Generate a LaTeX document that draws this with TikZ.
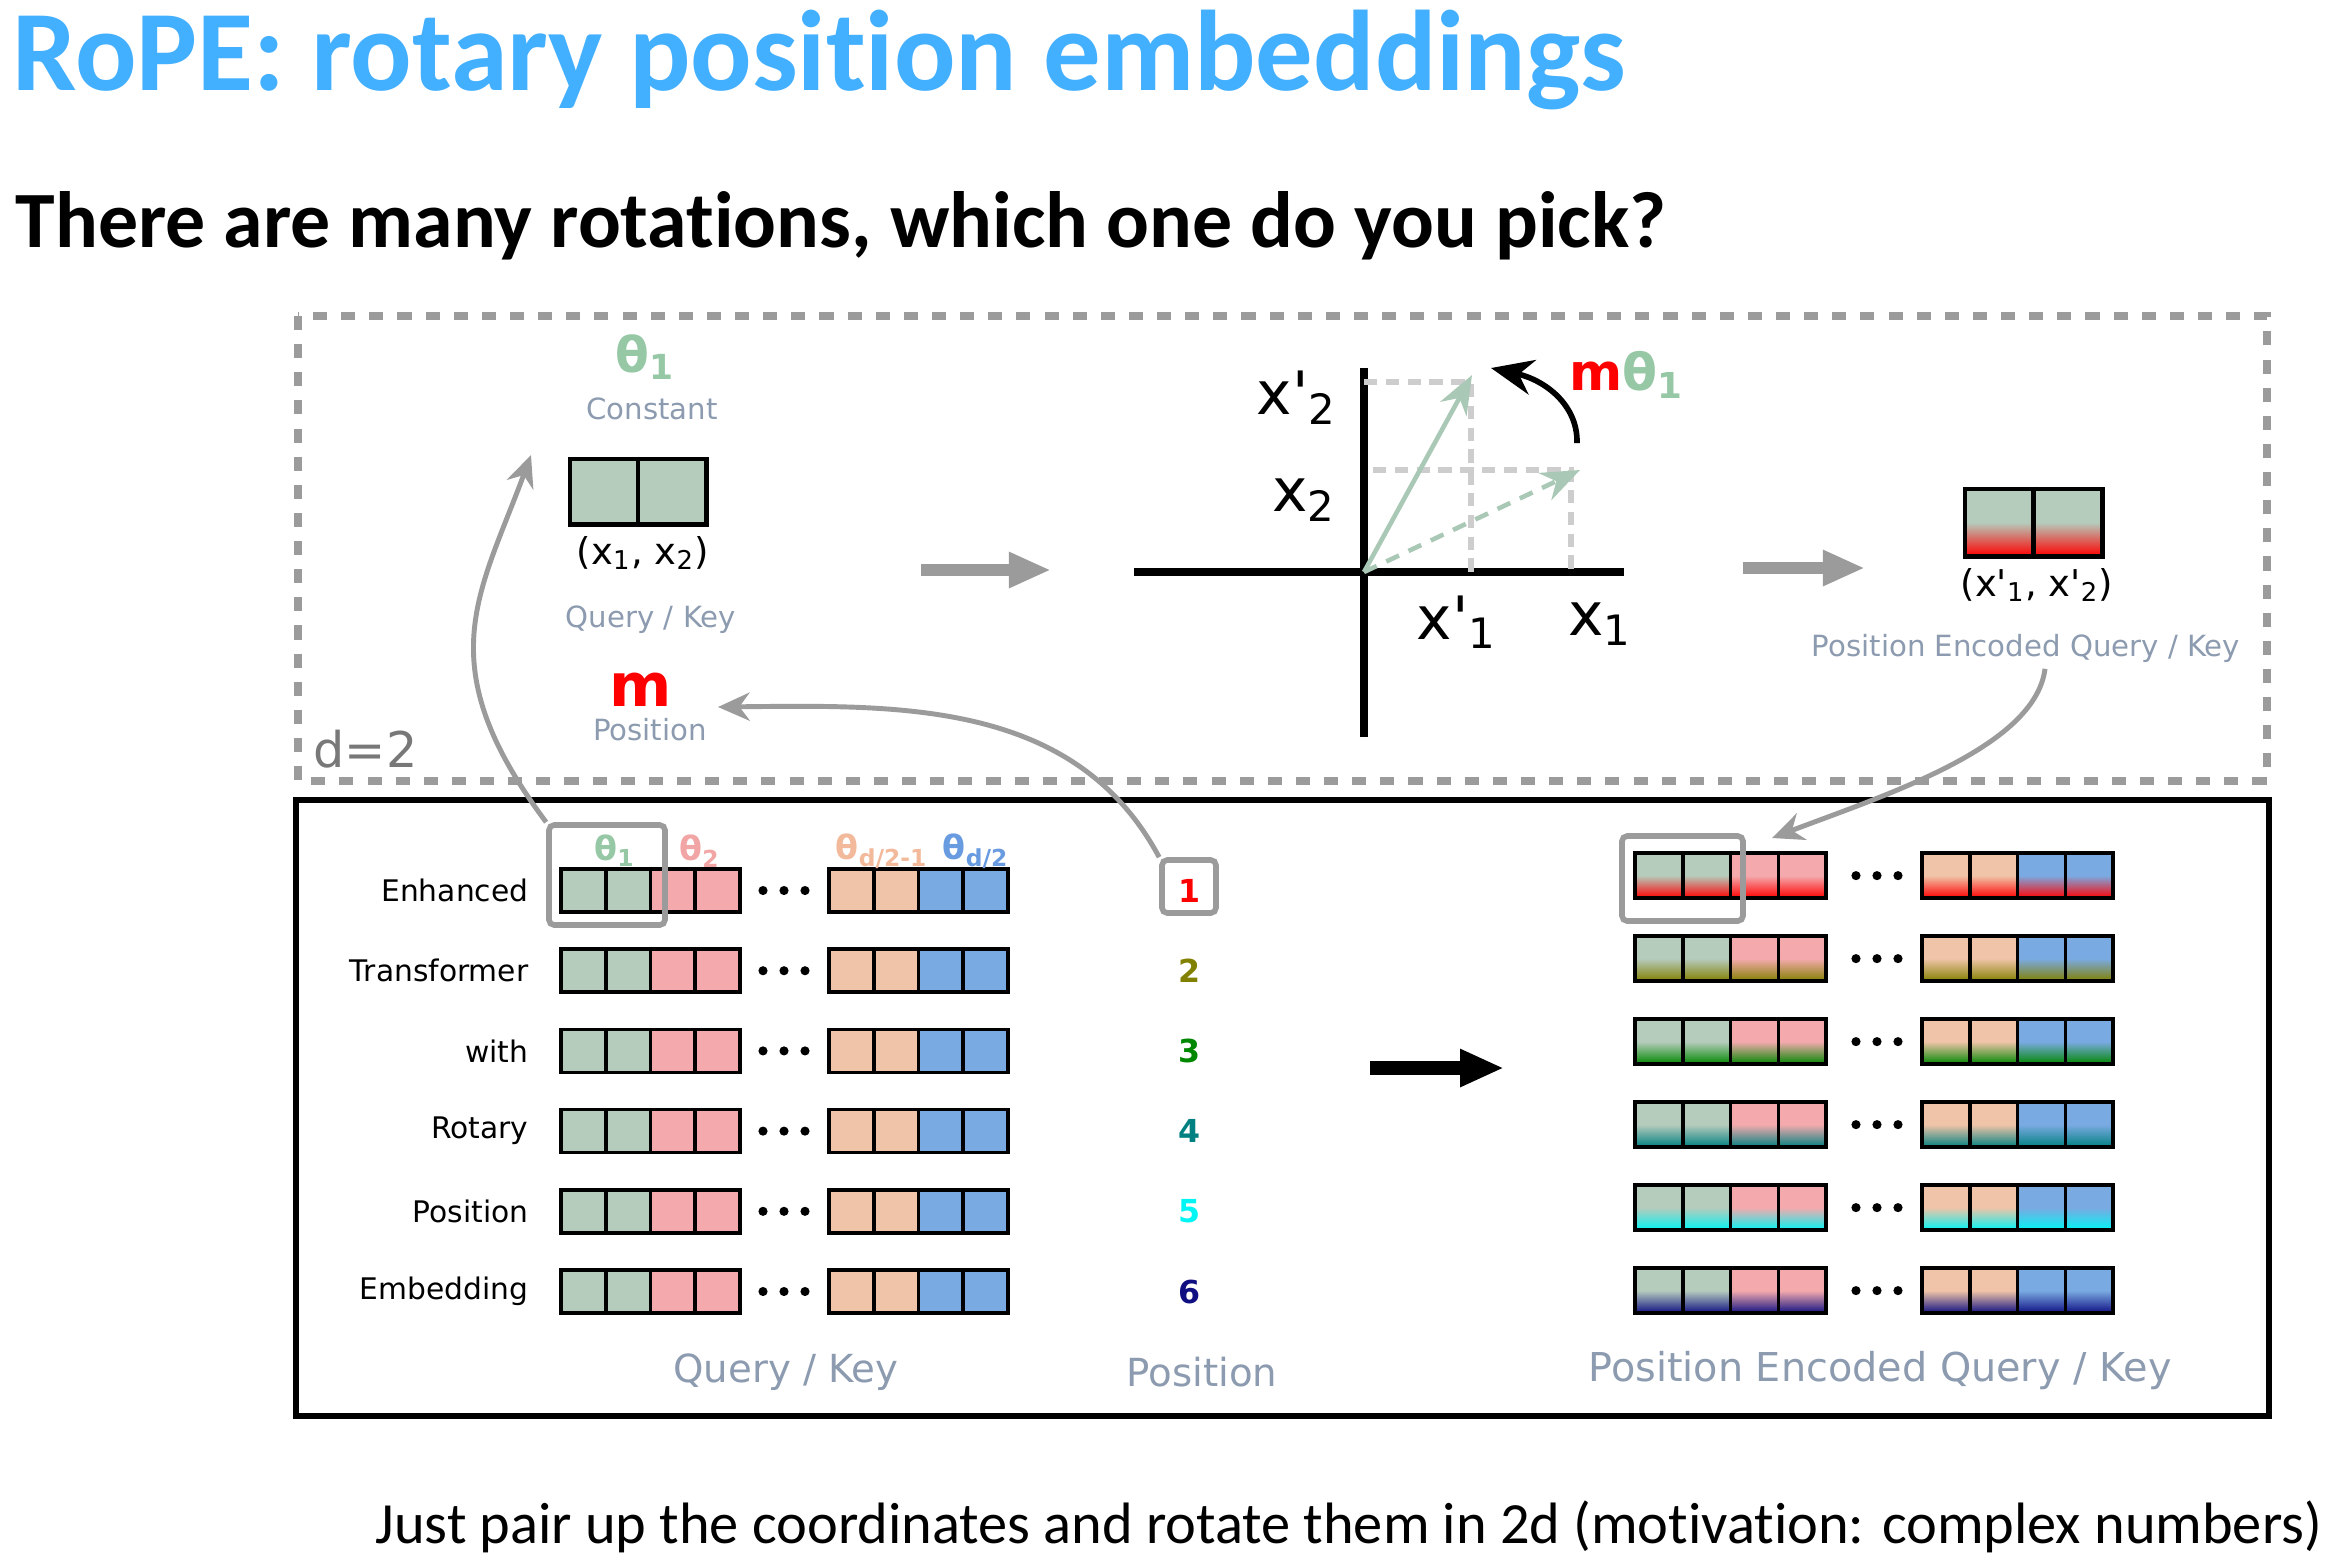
\documentclass[tikz,border=0pt]{standalone}
\usepackage{fontspec}
\setmainfont{Carlito}[Ligatures=NoCommon]
\newfontfamily\plotfont{DejaVu Sans}
\usetikzlibrary{arrows.meta,positioning,calc}

\definecolor{ropeblue}{RGB}{67,175,255}
\definecolor{qkgreen}{RGB}{181,203,188}
\definecolor{qkpink}{RGB}{244,170,173}
\definecolor{qkpeach}{RGB}{240,196,168}
\definecolor{qkblue}{RGB}{122,170,226}
\definecolor{thgreen}{RGB}{150,200,165}
\definecolor{thpink}{RGB}{242,165,165}
\definecolor{thpeach}{RGB}{242,185,155}
\definecolor{thblue}{RGB}{105,155,225}
\definecolor{labelgrey}{RGB}{140,155,175}
\definecolor{arrowgrey}{RGB}{155,155,155}
\definecolor{guidegrey}{RGB}{205,205,205}
\definecolor{vecgreen}{RGB}{170,200,182}
\definecolor{pcol1}{RGB}{255,0,0}
\definecolor{pcol2}{RGB}{130,128,0}
\definecolor{pcol3}{RGB}{0,135,0}
\definecolor{pcol4}{RGB}{0,128,128}
\definecolor{pcol5}{RGB}{0,245,245}
\definecolor{pcol6}{RGB}{15,15,130}

\tikzset{
  rowlbl/.style={font=\plotfont\fontsize{8.45}{10}\selectfont, inner sep=0pt, anchor=east},
  greylbl/.style={font=\plotfont\fontsize{#1}{#1}\selectfont, text=labelgrey, inner sep=0pt},
  blacklbl/.style={font=\plotfont\fontsize{#1}{#1}\selectfont, inner sep=0pt},
  thlbl/.style={font=\plotfont\bfseries\fontsize{#1}{#1}\selectfont, inner sep=0pt},
  cell/.style={draw=black, line width=1pt},
  hlbox/.style={draw=arrowgrey, line width=1.6pt, rounded corners=1.5pt, inner sep=0pt},
  curvearrow/.style={draw=arrowgrey, line width=1.4pt, -{Stealth[length=9pt,width=8pt]}},
  fatarrow/.style={draw=arrowgrey, line width=3.4pt, -{Triangle[length=12pt,width=9.5pt]}},
  guide/.style={draw=guidegrey, line width=1.9pt, dash pattern=on 3.8pt off 2.4pt},
  vec/.style={draw=vecgreen, line width=1.3pt, -{Stealth[length=11pt,width=8.5pt]}},
  axisline/.style={draw=black, line width=2.5pt}
}

\begin{document}
\begin{tikzpicture}[x=0.01cm,y=-0.01cm]
\useasboundingbox (0,0) rectangle (2332,1556);
\fill[white] (0,0) rectangle (2332,1556);

% headings
\node[anchor=base west, inner sep=0pt, text=ropeblue,
      font=\bfseries\fontsize{32.6}{33}\selectfont] (title) at (12,90) {RoPE: rotary position embeddings};
\node[anchor=base west, inner sep=0pt,
      font=\bfseries\fontsize{22.7}{23}\selectfont] (subtitle) at (15,247) {There are many rotations, which one do you pick?};
\node[anchor=base east, inner sep=0pt,
      font=\fontsize{16.6}{17}\selectfont] (note) at (2323,1543) {Just pair up the coordinates and rotate them in 2d (motivation: complex numbers)};

% frames
\draw[arrowgrey, line width=2.4pt, dash pattern=on 4pt off 4pt] (298,316) rectangle (2267,781);
\draw[line width=1.9pt] (296,800) rectangle (2269,1416);
\node[anchor=base west, inner sep=0pt, text=black!53,
      font=\plotfont\fontsize{14}{14}\selectfont] (dim) at (313,767) {d=2};

% d=2 example, left
\node[thlbl=14, text=thgreen] (th1top) at (645,357) {θ\textsubscript{1}};
\node[greylbl=8.3] (const) at (652,409) {Constant};
\node[draw, line width=1.4pt, fill=qkgreen, minimum width=1.36cm,
      minimum height=0.65cm, inner sep=0pt] (qk) at (638,491.5) {};
\draw[line width=1.4pt] (qk.north) -- (qk.south);
\node[blacklbl=10.5] (qkxy) at (643,553) {(x\textsubscript{1}, x\textsubscript{2})};
\node[greylbl=8.3] (qklbl) at (651,620) {Query / Key};
\node[thlbl=17, text=pcol1] (mlbl) at (641,690) {m};
\node[greylbl=8.3] (poslbl) at (650,730) {Position};

\coordinate (fa1s) at (921,570);
\coordinate (fa1e) at (1051,570);
\draw[fatarrow] (fa1s) -- (fa1e);

% rotation plot
\coordinate (origin) at (1364,572);
\draw[axisline] (1134,572) -- (1624,572);
\draw[axisline] (1364,368) -- (1364,737);
\draw[guide] (1364,382) -- (1471,382) -- (1471,572);
\draw[guide] (1373,470) -- (1571,470) -- (1571,572);
\coordinate (vrot) at (1472,375);
\coordinate (vorig) at (1580,470);
\draw[vec] (origin) -- (vrot);
\draw[vec, dash pattern=on 4pt off 3pt] (origin) -- (vorig);
\coordinate (rotstart) at (1577,443);
\coordinate (rottip) at (1491,368);
\draw[line width=1.6pt, -{Stealth[length=12pt,width=10pt]}]
  (rotstart) .. controls (1578,405) and (1545,380) .. (rottip);
\node[thlbl=14.5] (mth) at (1627,375) {\textcolor{pcol1}{m}\textcolor{thgreen}{θ\textsubscript{1}}};
\node[blacklbl=17] (xp2) at (1297,398) {x'\textsubscript{2}};
\node[blacklbl=17] (x2) at (1304,500) {x\textsubscript{2}};
\node[blacklbl=17] (xp1) at (1457,622) {x'\textsubscript{1}};
\node[blacklbl=17] (x1) at (1600,624) {x\textsubscript{1}};

\coordinate (fa2s) at (1743,568);
\coordinate (fa2e) at (1865,568);
\draw[fatarrow] (fa2s) -- (fa2e);

% d=2 example, right
\node[draw, line width=1.4pt, top color=qkgreen, bottom color=pcol1, middle color=qkgreen,
      minimum width=1.37cm, minimum height=0.67cm, inner sep=0pt] (peqk) at (2033.5,522.5) {};
\draw[line width=1.4pt] (peqk.north) -- (peqk.south);
\node[blacklbl=10.5] (peqkxy) at (2037,585) {(x'\textsubscript{1}, x'\textsubscript{2})};
\node[greylbl=8.3] (peqklbl) at (2026,648) {Position Encoded Query / Key};

% query / key rows
\foreach \lbl [count=\i] in {Enhanced,Transformer,with,Rotary,Position,Embedding}{
  \pgfmathsetmacro{\yy}{890.5+80.2*(\i-1)}
  \node[rowlbl] (row\i) at (529,\yy) {\lbl};
  \foreach \c/\col in {0/qkgreen,1/qkgreen,2/qkpink,3/qkpink}
    \draw[cell, fill=\col] ({561+44.75*\c},{\yy-21.5}) rectangle ++(44.75,43);
  \foreach \c/\col in {0/qkpeach,1/qkpeach,2/qkblue,3/qkblue}
    \draw[cell, fill=\col] ({829+44.75*\c},{\yy-21.5}) rectangle ++(44.75,43);
  \foreach \dx in {763,784,805}
    \fill (\dx,\yy) circle[radius=1.3pt];
}
\node[thlbl=9.5, text=thgreen] (th1) at (615,851) {θ\textsubscript{1}};
\node[thlbl=9.5, text=thpink] (th2) at (700,851) {θ\textsubscript{2}};
\node[thlbl=9.5, text=thpeach] (th3) at (882,851) {θ\textsubscript{d/2-1}};
\node[thlbl=9.5, text=thblue] (th4) at (976,851) {θ\textsubscript{d/2}};
\node[hlbox, minimum width=1.16cm, minimum height=1cm] (hl1) at (607,875) {};

% positions
\foreach \n in {1,...,6}
  \node[thlbl=9, text=pcol\n] (num\n) at (1190,{890.5+80.2*(\n-1)}) {\n};
\node[hlbox, minimum width=0.54cm, minimum height=0.53cm] (numbox) at (1189,886.5) {};

\coordinate (fa3s) at (1370,1068);
\coordinate (fa3e) at (1504,1068);
\draw[line width=4pt, -{Triangle[length=12.5pt,width=10pt]}] (fa3s) -- (fa3e);

% position encoded rows
\foreach \pc [count=\i] in {pcol1,pcol2,pcol3,pcol4,pcol5,pcol6}{
  \pgfmathsetmacro{\yy}{875.6+83*(\i-1)}
  \foreach \c/\col in {0/qkgreen,1/qkgreen,2/qkpink,3/qkpink}
    \draw[cell, top color=\col, bottom color=\pc, middle color=\col]
      ({1635+47.75*\c},{\yy-22.5}) rectangle ++(47.75,45);
  \foreach \c/\col in {0/qkpeach,1/qkpeach,2/qkblue,3/qkblue}
    \draw[cell, top color=\col, bottom color=\pc, middle color=\col]
      ({1922+47.75*\c},{\yy-22.5}) rectangle ++(47.75,45);
  \foreach \dx in {1856,1877,1898}
    \fill (\dx,\yy) circle[radius=1.3pt];
}
\node[hlbox, minimum width=1.21cm, minimum height=0.85cm] (hl2) at (1682.5,878.5) {};

\node[greylbl=11] (qkbot) at (786,1372) {Query / Key};
\node[greylbl=11] (posbot) at (1202,1372) {Position};
\node[greylbl=11.3] (peqkbot) at (1880,1371) {Position Encoded Query / Key};

% connectors
\coordinate (qktip) at (531,455);
\coordinate (mtip) at (718,707);
\coordinate (hltip) at (1772,838);
\draw[curvearrow] (hl1.north west) .. controls (428,664) and (479,596) .. (qktip);
\draw[curvearrow] (numbox.north west) .. controls (1075,700) and (900,705) .. (mtip);
\draw[curvearrow] ([xshift=0.19cm,yshift=-0.06cm]peqklbl.south) .. controls (2035,748) and (1882,796) .. (hltip);
\end{tikzpicture}
\end{document}
